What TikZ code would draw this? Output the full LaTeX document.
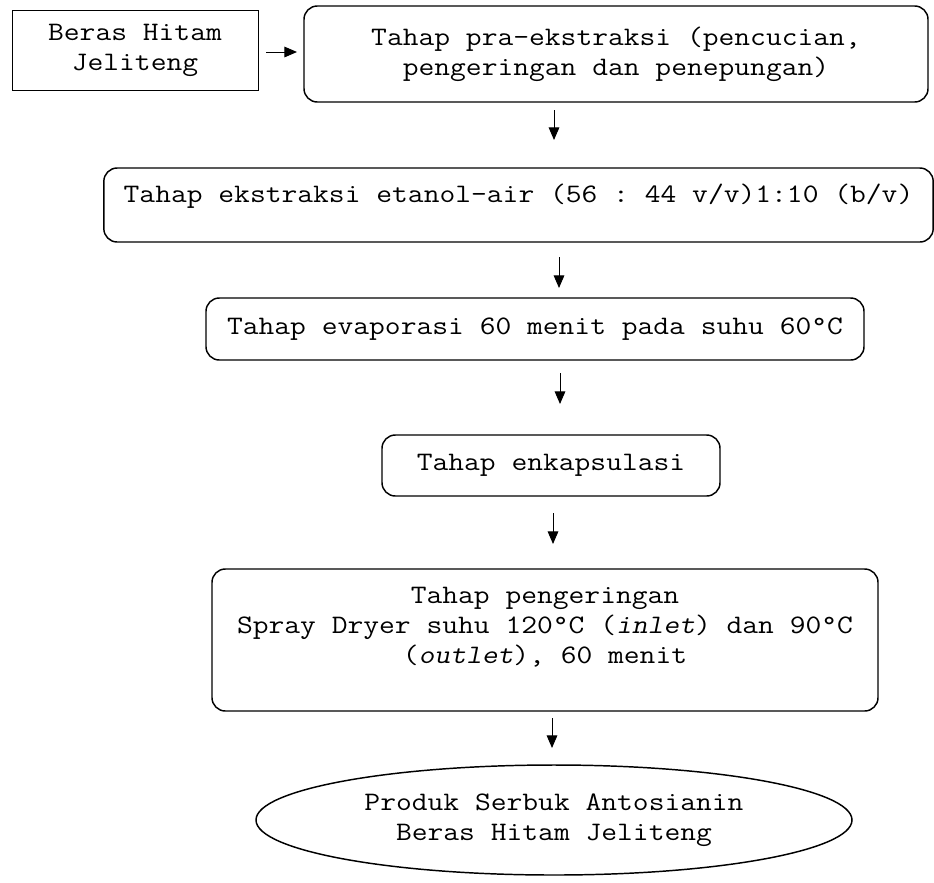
\documentclass[tikz,border=0pt]{standalone}
\usepackage{fontspec}
\setmonofont[FakeStretch=1.15, ItalicFont=*, ItalicFeatures={FakeSlant=0.2}]{Latin Modern Mono}
\usepackage{tikz}
\usetikzlibrary{shapes.geometric, arrows.meta, positioning}

\begin{document}
\begin{tikzpicture}[x=0.75pt, y=-0.75pt,
  stepbox/.style={rectangle, rounded corners=10pt, draw, line width=1.1pt,
                  inner sep=0pt, align=center,
                  font=\ttfamily\fontsize{20}{22.5}\selectfont},
  rawbox/.style={stepbox, sharp corners, line width=0.7pt},
  productbox/.style={stepbox, ellipse},
  flow/.style={-{Triangle[length=9.5pt, width=8pt]}, line width=0.75pt},
]
  \useasboundingbox (0,0) rectangle (934,882);

  % raw material goes into pre-extraction
  \node[rawbox, minimum width=184.5pt, minimum height=60pt] (bahan) at (135,50)
    {Beras Hitam\\Jeliteng};
  \node[stepbox, minimum width=468pt, minimum height=72pt] (pra) at (616,54)
    {Tahap pra-ekstraksi (pencucian,\\pengeringan dan penepungan)};

  % extraction, evaporation, encapsulation
  \node[stepbox, minimum width=622pt, minimum height=55.5pt, text depth=18pt] (ekstraksi) at (518.5,205)
    {Tahap ekstraksi etanol-air (56 : 44 v/v)1:10 (b/v)};
  \node[stepbox, minimum width=493.5pt, minimum height=46.5pt] (evaporasi) at (535,329)
    {Tahap evaporasi 60 menit pada suhu 60°C};
  \node[stepbox, minimum width=253.5pt, minimum height=45.75pt] (enkapsulasi) at (551,465.5)
    {Tahap enkapsulasi};

  % drying and final product
  \node[stepbox, minimum width=499.5pt, minimum height=106.5pt, text depth=22pt] (pengeringan) at (545,640)
    {Tahap pengeringan\\Spray Dryer suhu 120°C (\textit{inlet}) dan 90°C\\(\textit{outlet}), 60 menit};
  \node[productbox, minimum width=447pt, minimum height=82.5pt] (produk) at (554,820)
    {Produk Serbuk Antosianin\\Beras Hitam Jeliteng};

  % arrow ends
  \coordinate (h1) at (266,52);  \coordinate (h2) at (297,52);
  \coordinate (v1) at (554,110); \coordinate (v2) at (554,140);
  \coordinate (v3) at (559,257); \coordinate (v4) at (559,288);
  \coordinate (v5) at (560,373); \coordinate (v6) at (560,404);
  \coordinate (v7) at (553,513); \coordinate (v8) at (553,544);
  \coordinate (v9) at (552,718); \coordinate (v10) at (552,748);

  \draw[flow] (h1) -- (h2);
  \draw[flow] (v1) -- (v2);
  \draw[flow] (v3) -- (v4);
  \draw[flow] (v5) -- (v6);
  \draw[flow] (v7) -- (v8);
  \draw[flow] (v9) -- (v10);
\end{tikzpicture}
\end{document}
